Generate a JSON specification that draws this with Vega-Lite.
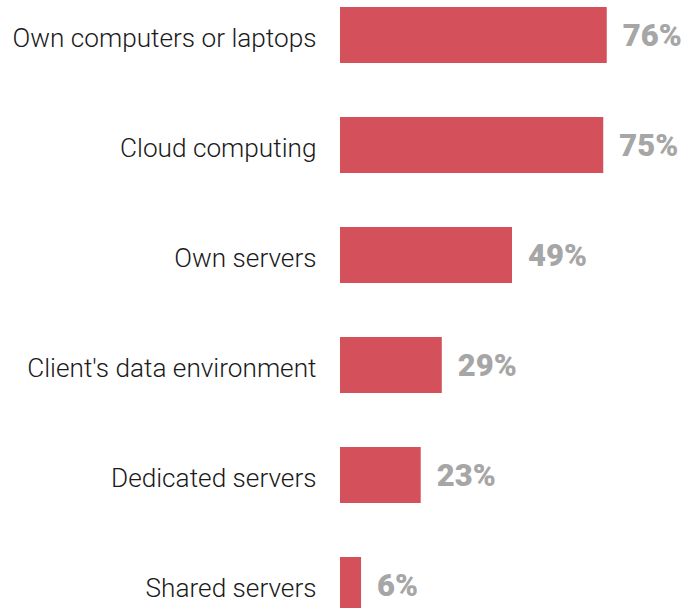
{
  "$schema": "https://vega.github.io/schema/vega-lite/v6.json",
  "width": 351,
  "height": 620,
  "autosize": {"type": "none"},
  "padding": {"left": 340, "top": 0, "right": 1, "bottom": 0},
  "background": "white",
  "data": {"values": [
    {"category": "Own computers or laptops", "value": 0.76},
    {"category": "Cloud computing", "value": 0.75},
    {"category": "Own servers", "value": 0.49},
    {"category": "Client's data environment", "value": 0.29},
    {"category": "Dedicated servers", "value": 0.23},
    {"category": "Shared servers", "value": 0.06}
  ]},
  "encoding": {
    "y": {"field": "category", "type": "nominal", "sort": null,
      "scale": {"paddingInner": 0.491, "paddingOuter": 0.0636},
      "axis": {"title": null, "domain": false, "ticks": false, "labelPadding": 24,
        "labelFont": "Roboto", "labelFontWeight": 300, "labelFontSize": 26.2, "labelColor": "#1a1a1a", "labelLimit": 400, "labelBaseline": "middle", "labelOffset": 4}},
    "x": {"field": "value", "type": "quantitative", "scale": {"domain": [0, 1]}, "axis": null}
  },
  "layer": [
    {"mark": {"type": "bar", "color": "#d4505b"}},
    {"mark": {"type": "text", "align": "left", "baseline": "middle", "dx": 16, "dy": 2, "font": "Roboto", "fontWeight": 900, "fontSize": 31, "color": "#a6a6a6"},
     "encoding": {"text": {"field": "value", "type": "quantitative", "format": ".0%"}}}
  ],
  "config": {"view": {"stroke": null}}
}
